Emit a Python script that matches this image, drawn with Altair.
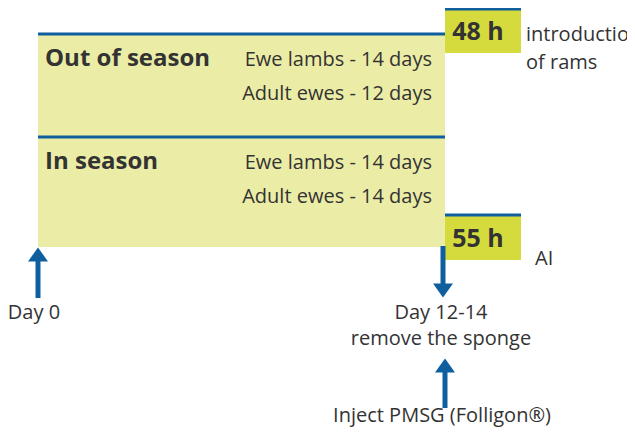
import altair as alt
import pandas as pd

# ---- content ----
groups = ["Out of season", "In season"]
rows_out = ["Ewe lambs - 14 days", "Adult ewes - 12 days"]
rows_in = ["Ewe lambs  - 14 days", "Adult ewes - 14 days"]
timing_labels = ["48 h", "55 h"]
timing_notes = [["introduction", "of rams"], ["AI"]]
events = ["Day 0", "Day 12-14", "remove the sponge", "Inject PMSG (Folligon®)"]

# ---- layout (diagram coordinates, px from page top-left) ----
BLUE = "#0f5f9f"
PALE = "#ebeda6"
LIME = "#d6db3d"
TXT = "#333333"
FONT = "Open Sans"
FS = 20

boxes = pd.DataFrame({
    "x": [38, 445, 445], "x2": [445, 521, 521],
    "y": [33, 8, 214], "y2": [247, 53, 260],
    "fill": [PALE, LIME, LIME],
})
lines = pd.DataFrame({
    "x": [38, 38, 445, 445], "x2": [445, 445, 521, 521],
    "y": [34, 137, 9, 215],
})
shafts = pd.DataFrame({
    "x": [38, 443, 445], "y": [258, 246, 370], "y2": [298, 285, 408],
})
heads = pd.DataFrame({
    "x": [38, 443, 445], "y": [254.5, 290.5, 365.5],
    "dir": ["up", "down", "up"],
})

bold_txt = pd.DataFrame({
    "x": [45, 45], "y": [59, 162], "t": groups,
})
row_txt = pd.DataFrame({
    "x": [432, 432, 432, 432], "y": [60, 94, 163, 197],
    "t": rows_out + rows_in,
})
hour_txt = pd.DataFrame({"x": [478, 478], "y": [32, 239], "t": timing_labels})
note_txt = pd.DataFrame({
    "x": [526, 526, 535], "y": [35, 63, 259],
    "t": timing_notes[0] + timing_notes[1],
})
event_txt = pd.DataFrame({
    "x": [34, 441, 441], "y": [313, 313, 339], "t": events[:3],
})
last_txt = pd.DataFrame({"x": [442], "y": [422], "t": events[3:]})

X = alt.Scale(domain=[8, 627])
Y = alt.Scale(domain=[8, 428], reverse=True)


def xe(f="x"):
    return alt.X(f"{f}:Q", scale=X, axis=None)


def ye(f="y"):
    return alt.Y(f"{f}:Q", scale=Y, axis=None)


rects = alt.Chart(boxes).mark_rect().encode(
    x=xe(), x2="x2:Q", y=ye(), y2="y2:Q",
    color=alt.Color("fill:N", scale=None),
)
rules = alt.Chart(lines).mark_rule(color=BLUE, strokeWidth=3).encode(
    x=xe(), x2="x2:Q", y=ye()
)
arrow_shafts = alt.Chart(shafts).mark_rule(color=BLUE, strokeWidth=5).encode(
    x=xe(), y=ye(), y2="y2:Q"
)
up = alt.Chart(heads).transform_filter("datum.dir == 'up'").mark_point(
    shape="M-1,0.7L1,0.7L0,-0.7Z", filled=True, color=BLUE, opacity=1, size=400
).encode(x=xe(), y=ye())
down = alt.Chart(heads).transform_filter("datum.dir == 'down'").mark_point(
    shape="M-1,-0.7L1,-0.7L0,0.7Z", filled=True, color=BLUE, opacity=1, size=400
).encode(x=xe(), y=ye())

t_bold = alt.Chart(bold_txt).mark_text(
    font=FONT, fontSize=24, fontWeight="bold", align="left", baseline="middle", color=TXT
).encode(x=xe(), y=ye(), text="t:N")
t_rows = alt.Chart(row_txt).mark_text(
    font=FONT, fontSize=FS, align="right", baseline="middle", color=TXT
).encode(x=xe(), y=ye(), text="t:N")
t_hours = alt.Chart(hour_txt).mark_text(
    font=FONT, fontSize=25, fontWeight="bold", align="center", baseline="middle", color=TXT
).encode(x=xe(), y=ye(), text="t:N")
t_notes = alt.Chart(note_txt).mark_text(
    font=FONT, fontSize=FS, align="left", baseline="middle", color=TXT
).encode(x=xe(), y=ye(), text="t:N")
t_events = alt.Chart(event_txt).mark_text(
    font=FONT, fontSize=FS, align="center", baseline="middle", color=TXT
).encode(x=xe(), y=ye(), text="t:N")
t_last = alt.Chart(last_txt).mark_text(
    font=FONT, fontSize=FS, align="center", baseline="alphabetic", color=TXT
).encode(x=xe(), y=ye(), text="t:N")

chart = alt.layer(
    rects, rules, arrow_shafts, up, down, t_bold, t_rows, t_hours, t_notes,
    t_events, t_last
).properties(
    width=619, height=420, padding=0,
    autosize=alt.AutoSizeParams(type="none"),
).configure_view(strokeWidth=0)

chart.save("out.html", embed_options={"renderer": "svg", "actions": False})
